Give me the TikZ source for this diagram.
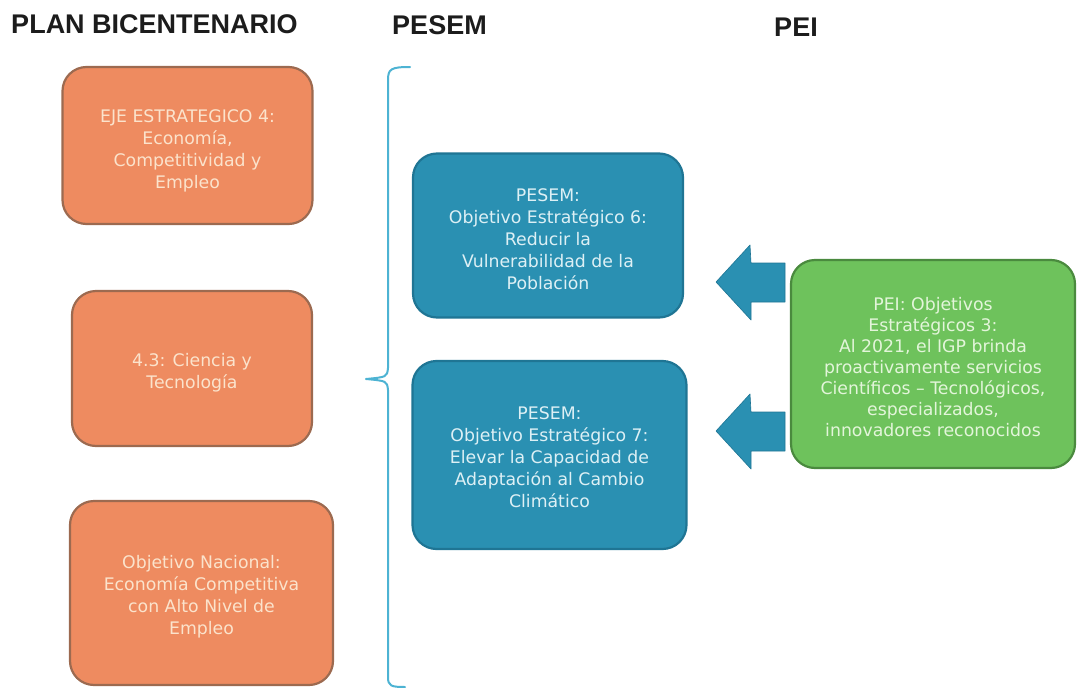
\documentclass[tikz,border=0pt]{standalone}
\usepackage{fontspec}
\setmainfont{Liberation Sans}
\newfontfamily\boxfont{DejaVu Sans}
\definecolor{orfill}{HTML}{EE8B60}
\definecolor{ordraw}{HTML}{9C6A50}
\definecolor{ortext}{HTML}{FBE3CC}
\definecolor{blfill}{HTML}{2A90B2}
\definecolor{bldraw}{HTML}{1F7594}
\definecolor{bltext}{HTML}{DDF0F5}
\definecolor{grfill}{HTML}{6EC25C}
\definecolor{grdraw}{HTML}{4A8A3E}
\definecolor{grtext}{HTML}{E3F5DA}
\definecolor{brk}{HTML}{4DB3D3}
\definecolor{ttl}{HTML}{1C1C1C}
\tikzset{
  box/.style={rounded corners=24pt, line width=2.2pt},
  obox/.style={box, fill=orfill, draw=ordraw},
  bbox/.style={box, fill=blfill, draw=bldraw},
  gbox/.style={box, fill=grfill, draw=grdraw},
  txt/.style={align=center, inner sep=0pt, font=\boxfont\fontsize{17.3}{22}\selectfont},
  otxt/.style={txt, text=ortext},
  btxt/.style={txt, text=bltext},
  gtxt/.style={txt, text=grtext, font=\boxfont\fontsize{17.3}{21}\selectfont},
  title/.style={font=\bfseries\fontsize{27}{30}\selectfont, text=ttl, inner sep=0pt},
  barrow/.style={fill=blfill, draw=bldraw, line width=0.6pt, line join=round},
}
\begin{document}
\begin{tikzpicture}[x=1pt,y=-1pt]
\useasboundingbox (0,0) rectangle (1077,688);
\node[title] (t1) at (154.5,24) {PLAN BICENTENARIO};
\node[title] (t2) at (439.5,25) {PESEM};
\node[title] (t3) at (796,27) {PEI};

\node[obox, minimum width=250pt, minimum height=157pt] (o1) at (187.5,145.5) {};
\node[otxt] (o1t) at ([yshift=-5pt]o1.center)
  {EJE ESTRATEGICO 4:\\Economía,\\Competitividad y\\Empleo};
\node[obox, minimum width=240pt, minimum height=155pt] (o2) at (192,368.5) {};
\node[otxt] (o2t) at ([yshift=-4pt]o2.center)
  {4.3: Ciencia y\\Tecnología};
\node[obox, minimum width=263pt, minimum height=184pt] (o3) at (201.5,593) {};
\node[otxt] (o3t) at ([yshift=-4pt]o3.center)
  {Objetivo Nacional:\\Economía Competitiva\\con Alto Nivel de\\Empleo};

\node[bbox, minimum width=270pt, minimum height=164pt] (b1) at (548,235.5) {};
\node[btxt] (b1t) at ([yshift=-4pt]b1.center)
  {PESEM:\\Objetivo Estratégico 6:\\Reducir la\\Vulnerabilidad de la\\Población};
\node[bbox, minimum width=274pt, minimum height=188pt] (b2) at (549.5,455) {};
\node[btxt] (b2t) at ([yshift=-2pt]b2.center)
  {PESEM:\\Objetivo Estratégico 7:\\Elevar la Capacidad de\\Adaptación al Cambio\\Climático};

\node[gbox, minimum width=284pt, minimum height=208pt] (g) at (933,364) {};
\node[gtxt] (gt) at ([yshift=-3pt]g.center)
  {PEI: Objetivos\\Estratégicos 3:\\Al 2021, el IGP brinda\\proactivamente servicios\\Científicos – Tecnológicos,\\especializados,\\innovadores reconocidos};

% block arrows
\draw[barrow] (716,282) -- (750,245) -- (751,263) -- (785,263) -- (785,302) -- (751,302) -- (751,320) -- cycle;
\draw[barrow] (716,431) -- (750,394) -- (751,412) -- (785,412) -- (785,451) -- (751,451) -- (751,469) -- cycle;

% brace
\coordinate (bt) at (410,67);
\coordinate (bm) at (366,379);
\coordinate (bb) at (405,687);
\draw[brk, line width=2pt, line cap=round, line join=round]
  (bt) .. controls (391,67) and (388,69) .. (388,80) -- (388,368)
  .. controls (387,377) .. (bm)
  .. controls (387,381) .. (388,390) -- (388,677)
  .. controls (388,686) and (391,687) .. (bb);
\end{tikzpicture}
\end{document}
